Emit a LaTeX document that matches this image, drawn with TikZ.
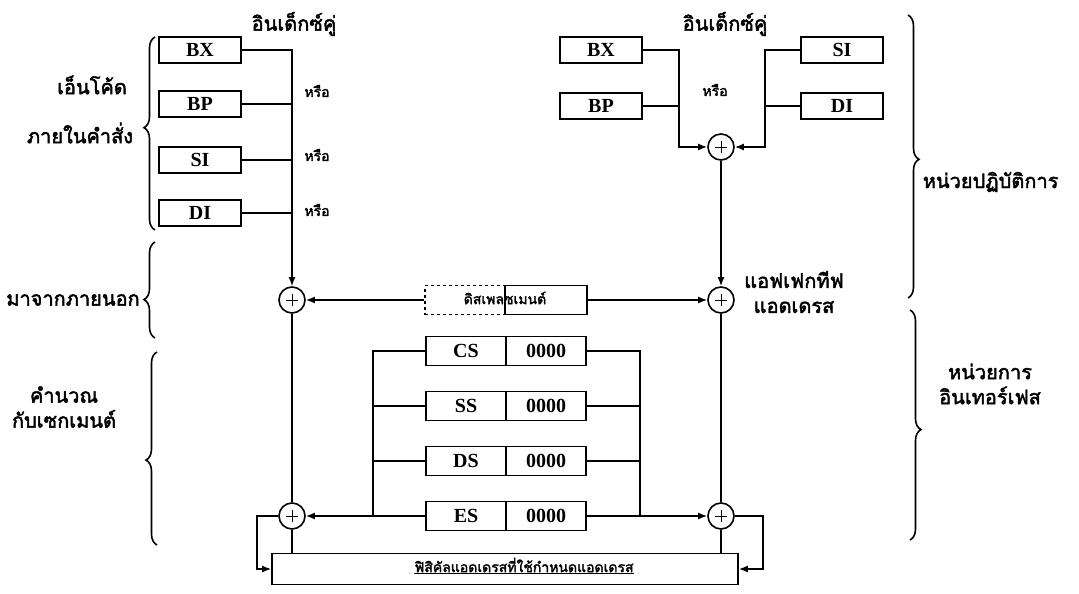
\documentclass[tikz,border=0pt]{standalone}
\usepackage{fontspec}
\setmainfont{Liberation Serif}
\newfontfamily\thaifont[Script=Thai, FakeBold=2.2]{Loma}
\usetikzlibrary{arrows.meta,decorations.pathreplacing,calc}

\tikzset{
  reg/.style={draw, minimum width=82pt, minimum height=26pt, inner sep=0pt, font=\fontsize{20}{20}\selectfont\bfseries},
  half/.style={reg, minimum width=80pt, minimum height=29pt},
  adder/.style={circle, draw, minimum size=26pt, inner sep=0pt,
    path picture={\draw[line width=0.9pt] ($(path picture bounding box.center)+(-6pt,0)$) -- ++(12pt,0)
      ($(path picture bounding box.center)+(0,-6pt)$) -- ++(0,12pt);}},
  thlbl/.style={font=\thaifont\fontsize{20}{25}\selectfont, align=center, inner sep=0pt},
  thsmall/.style={font=\thaifont\fontsize{14}{16}\selectfont, inner sep=0pt},
  arr/.style={-{Latex[length=9pt,width=7pt]}},
  brc/.style={decorate, decoration={brace, amplitude=11pt, aspect=#1}},
  brc/.default=0.5
}

\begin{document}
\begin{tikzpicture}[x=1pt, y=-1pt, line width=1.6pt]
  \useasboundingbox (0,0) rectangle (1079,594);

  \node[reg] (BXa) at (200,50) {BX};
  \node[reg] (BPa) at (200,104) {BP};
  \node[reg] (SIa) at (200,160) {SI};
  \node[reg] (DIa) at (200,213) {DI};
  \node[reg] (BXb) at (601,50) {BX};
  \node[reg] (BPb) at (601,106) {BP};
  \node[reg] (SIb) at (842,50) {SI};
  \node[reg] (DIb) at (842,106) {DI};

  \node[adder] (addIdx) at (721,147) {};
  \node[adder] (addL) at (292,300) {};
  \node[adder] (addEA) at (721,300) {};
  \node[adder] (addSL) at (292,516) {};
  \node[adder] (addSR) at (721,516) {};

  \node[reg, dashed, minimum width=80pt, minimum height=29pt] (dispD) at (465,300) {};
  \node[reg, minimum width=82pt, minimum height=29pt] (dispS) at (546,300) {};
  \node[thsmall] (dispT) at (505,298) {ดิสเพลซเมนต์};

  \foreach \s/\y in {CS/351,SS/406,DS/461,ES/516} {
    \node[half] (seg\s) at (466,\y) {\s};
    \node[half] (val\s) at (546,\y) {0000};
  }

  \node[draw, minimum width=466pt, minimum height=31pt, inner sep=0pt] (phys) at (505,569) {};
  \node[thsmall] (physT) at (524,566) {\underline{ฟิสิคัลแอดเดรสที่ใช้กำหนดแอดเดรส}};

  \node[thlbl] (ttlL) at (294,24) {อินเด็กซ์คู่};
  \node[thlbl] (ttlR) at (725,24) {อินเด็กซ์คู่};
  \node[thsmall] (orA) at (317,91) {หรือ};
  \node[thsmall] (orB) at (317,155) {หรือ};
  \node[thsmall] (orC) at (317,210) {หรือ};
  \node[thsmall] (orD) at (715,90) {หรือ};
  \node[thlbl] (encA) at (92,85) {เอ็นโค้ด};
  \node[thlbl] (encB) at (80,133) {ภายในคำสั่ง};
  \node[thlbl] (extL) at (73,300) {มาจากภายนอก};
  \node[thlbl] (segLbl) at (64,407) {คำนวณ\\กับเซกเมนต์};
  \node[thlbl] (eaLbl) at (794,292) {แอฟเฟกทีฟ\\แอดเดรส};
  \node[thlbl, anchor=west] (euLbl) at (922,182) {หน่วยปฏิบัติการ};
  \node[thlbl] (biuLbl) at (990,384) {หน่วยการ\\อินเทอร์เฟส};

  \draw[arr] (BXa.east) -| (addL.north);
  \foreach \r in {BPa,SIa,DIa} \draw (\r.east) -- (\r.east -| addL);
  \coordinate (jnL) at (679,50);
  \coordinate (jnR) at (765,50);
  \draw[arr] (BXb.east) -- (jnL) |- (addIdx.west);
  \draw (BPb.east) -- (BPb.east -| jnL);
  \draw[arr] (SIb.west) -- (jnR) |- (addIdx.east);
  \draw (DIb.west) -- (DIb.west -| jnR);
  \draw[arr] (addIdx) -- (addEA);
  \draw[arr] (dispD.west) -- (addL);
  \draw[arr] (dispS.east) -- (addEA);
  \draw (addL) -- (addSL);
  \draw (addEA) -- (addSR);

  \coordinate (busL) at (373,351);
  \coordinate (busR) at (640,351);
  \draw (segCS.west) -| (busL |- segES.west);
  \foreach \s in {SS,DS} \draw (seg\s.west) -- (seg\s.west -| busL);
  \draw[arr] (segES.west) -- (addSL);
  \draw (valCS.east) -| (busR |- valES.east);
  \foreach \s in {SS,DS} \draw (val\s.east) -- (val\s.east -| busR);
  \draw[arr] (valES.east) -- (addSR);

  \draw (addSL) -- (addSL |- phys.north);
  \draw (addSR) -- (addSR |- phys.north);
  \coordinate (lpL) at (257,516);
  \coordinate (lpR) at (763,516);
  \draw[arr] (addSL.west) -- (lpL) |- (phys.west);
  \draw[arr] (addSR.east) -- (lpR) |- (phys.east);

  \draw[brc=0.53] (155,230) -- (155,37);
  \draw[brc=0.4] (155,338) -- (155,242);
  \draw[brc=0.44] (157,545) -- (157,352);
  \draw[brc=0.51] (908,15) -- (908,298);
  \draw[brc=0.52] (910,310) -- (910,540);
\end{tikzpicture}
\end{document}
